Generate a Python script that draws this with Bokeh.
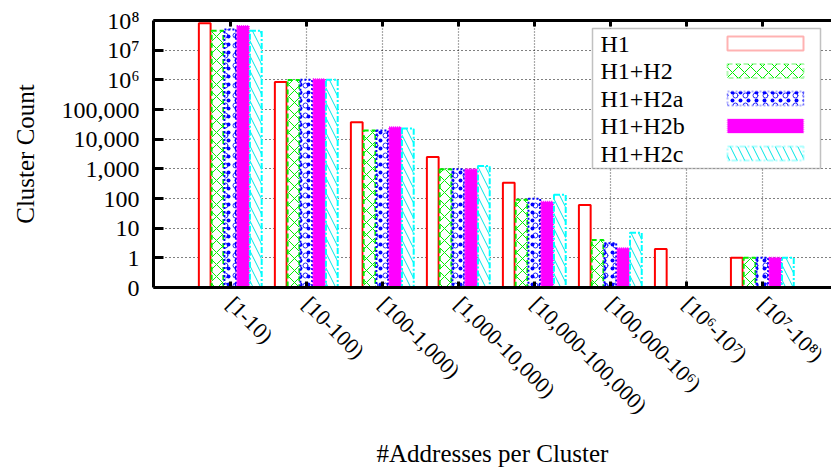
import numpy as np
from bokeh.plotting import figure
from bokeh.models import Range1d, FixedTicker, LinearAxis, Label, BoxAnnotation, ColumnDataSource
from bokeh.embed import file_html
from bokeh.resources import INLINE

categories = ["[1-10)", "[10-100)", "[100-1,000)", "[1,000-10,000)", "[10,000-100,000)",
              "[100,000-10\u2076)", "[10\u2076-10\u2077)", "[10\u2077-10\u2078)"]
series_names = ["H1", "H1+H2", "H1+H2a", "H1+H2b", "H1+H2c"]
h1 = [8.0e7, 8.5e5, 37000, 2500, 340, 60, 2, 1]
h1_h2 = [4.5e7, 9.8e5, 19500, 960, 91, 4, 0, 1]
h1_h2a = [5.0e7, 1.0e6, 19500, 960, 98, 3.1, 0, 1]
h1_h2b = [6.5e7, 1.05e6, 25000, 960, 78, 2.1, 0, 1]
h1_h2c = [4.5e7, 1.0e6, 23000, 1240, 134, 7, 0, 1]
series_values = [h1, h1_h2, h1_h2a, h1_h2b, h1_h2c]
y_tick_values = [0.1, 1, 10, 100, 1e3, 1e4, 1e5, 1e6, 1e7, 1e8]
y_tick_labels = ["0", "1", "10", "100", "1,000", "10,000", "100,000", "10\u2076", "10\u2077", "10\u2078"]

FONT = "'Liberation Serif', 'DejaVu Serif', serif"
bar_w = 0.168

styles = [
    [dict(fill_color="white", line_color="#ff0000", line_width=2)],
    [dict(fill_color="white", line_color="#00ee00", line_width=2, line_dash="5 3",
          hatch_pattern="diagonal_cross", hatch_color="#00ee00", hatch_scale=12, hatch_weight=1)],
    [dict(fill_color="white", line_color=None,
          hatch_pattern="ring", hatch_color="#2222ff", hatch_scale=10, hatch_weight=1),
     dict(fill_color=None, line_color="#0000ff", line_width=2, line_dash="2 2",
          hatch_pattern="dot", hatch_color="#0000ff", hatch_scale=8, hatch_weight=1.5)],
    [dict(fill_color="#ff00ff", line_color="#ff00ff", line_width=2, line_dash="1 1")],
    [dict(fill_color="white", line_color="#00ffff", line_width=2, line_dash="6 2 2 2",
          hatch_pattern="left_diagonal_line", hatch_color="#00e5e5", hatch_scale=15, hatch_weight=1)],
]

n = len(categories)
group_x = np.arange(n)

W, H = 831, 470
B_LEFT, B_TOP, B_BOTTOM = 153, 20, 183
FRAME_H = H - B_TOP - B_BOTTOM

p = figure(width=W, height=H, output_backend="svg", toolbar_location=None,
           y_axis_type="log", x_range=Range1d(-1.01, 7.91), y_range=Range1d(0.1, 1e8),
           min_border_left=B_LEFT, min_border_right=0, min_border_top=B_TOP, min_border_bottom=B_BOTTOM)
p.outline_line_color = None
p.background_fill_color = "white"

# axes
yax = p.yaxis[0]
yax.ticker = FixedTicker(ticks=y_tick_values)
yax.major_label_overrides = {v: s for v, s in zip(y_tick_values, y_tick_labels)}
yax.axis_label = "Cluster Count"
xax = p.xaxis[0]
xax.ticker = FixedTicker(ticks=list(group_x))
xax.major_label_overrides = {int(i): c for i, c in zip(group_x, categories)}
xax.major_label_orientation = -np.pi / 4
xax.axis_label = "#Addresses per Cluster"
top_ax = LinearAxis(ticker=FixedTicker(ticks=list(group_x)),
                    major_label_overrides={int(i): "" for i in group_x},
                    major_label_text_font_size="1px", major_label_standoff=0)
p.add_layout(top_ax, "above")

for ax in [yax, xax, top_ax]:
    ax.axis_line_width = 3
    ax.axis_line_color = "black"
    ax.major_tick_line_width = 3
    ax.major_tick_line_color = "black"
    ax.major_tick_out = 0
    ax.minor_tick_line_color = None
    ax.major_label_text_font = FONT
    ax.axis_label_text_font = FONT
    ax.axis_label_text_font_style = "normal"
    ax.axis_label_text_color = "black"
    ax.major_label_text_color = "black"
yax.major_tick_in = 10
xax.major_tick_in = 6
top_ax.major_tick_in = 6
yax.major_label_text_font_size = "24px"
yax.axis_label_text_font_size = "25px"
yax.major_label_standoff = 14
yax.axis_label_standoff = 20
xax.major_label_text_font_size = "22px"
xax.axis_label_text_font_size = "25px"
xax.major_label_standoff = 13
xax.axis_label_standoff = 10

p.ygrid.ticker = FixedTicker(ticks=y_tick_values)
p.ygrid.grid_line_color = "black"
p.ygrid.grid_line_dash = "1 3"
p.ygrid.grid_line_width = 1
p.xgrid.ticker = FixedTicker(ticks=list(group_x))
p.xgrid.grid_line_color = "#555555"
p.xgrid.grid_line_dash = "1 2"
p.xgrid.grid_line_width = 1.2

# bars
for k, (vals, st) in enumerate(zip(series_values, styles)):
    v = np.array(vals, dtype=float)
    mask = v > 0
    src = ColumnDataSource(dict(x=(group_x + (k - 2) * bar_w)[mask], top=v[mask],
                                bottom=np.full(mask.sum(), y_tick_values[0])))
    for s in st:
        p.vbar(x="x", top="top", bottom="bottom", width=bar_w * 0.92, source=src, **s)

# legend (text left, swatch right, like the original); screen y is measured up from the frame bottom
leg_left, leg_right, leg_top, leg_h, row_h = 439, 667, 8, 140, 27.5
def sy(y_from_top):
    return FRAME_H - y_from_top
p.add_layout(BoxAnnotation(left=leg_left, right=leg_right, top=sy(leg_top), bottom=sy(leg_top + leg_h),
                           left_units="screen", right_units="screen", top_units="screen",
                           bottom_units="screen", fill_color="white", fill_alpha=1,
                           line_color="#333333", line_width=1.5))
for k, (name, st) in enumerate(zip(series_names, styles)):
    cy = leg_top + 15 + k * row_h
    p.add_layout(Label(x=leg_left + 8, y=sy(cy), x_units="screen", y_units="screen", text=name,
                       text_font=FONT, text_font_size="24px", text_baseline="middle",
                       text_color="black"))
    for s in st:
        s2 = dict(s)
        s2.setdefault("fill_alpha", 1)
        if s2.get("fill_color") is None:
            s2["fill_alpha"] = 0
            s2["fill_color"] = "white"
        if s2.get("line_color") is None:
            s2["line_alpha"] = 0
            s2["line_color"] = "white"
        p.add_layout(BoxAnnotation(left=leg_left + 135, right=leg_left + 211, top=sy(cy - 7), bottom=sy(cy + 7),
                                   left_units="screen", right_units="screen", top_units="screen",
                                   bottom_units="screen", **s2))

open("out.html", "w").write(file_html(p, INLINE))
